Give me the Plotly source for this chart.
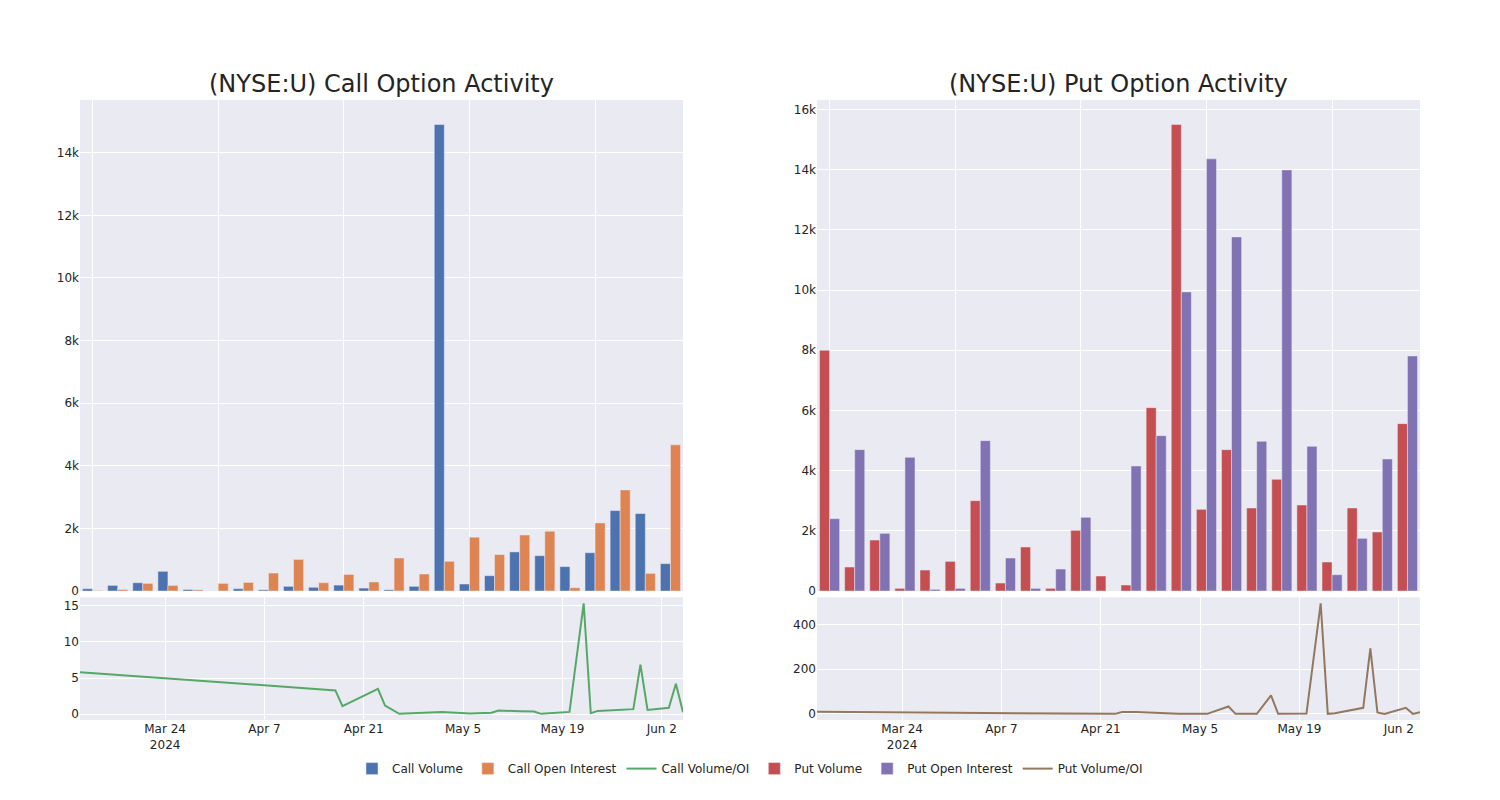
import plotly.graph_objects as go
from plotly.subplots import make_subplots

dates = ["2024-03-12", "2024-04-17", "2024-04-18", "2024-04-23", "2024-04-24", "2024-04-26",
         "2024-05-02", "2024-05-06", "2024-05-09", "2024-05-10", "2024-05-13", "2024-05-15",
         "2024-05-16", "2024-05-20", "2024-05-22", "2024-05-23", "2024-05-24", "2024-05-28",
         "2024-05-29", "2024-05-30", "2024-05-31", "2024-06-03", "2024-06-04", "2024-06-05"]

call_volume = [75, 180, 265, 630, 50, 0, 75, 40, 150, 120, 190, 95,
               40, 150, 14900, 225, 490, 1250, 1130, 780, 1225, 2570, 2475, 875]
call_oi = [13, 50, 245, 180, 40, 245, 275, 575, 1010, 265, 530, 290,
           1055, 545, 950, 1720, 1165, 1790, 1910, 105, 2175, 3230, 565, 4670]
call_ratio = [5.8, 3.29, 1.11, 3.5, 1.2, 0.05, 0.32, 0.1, 0.2, 0.5, 0.42, 0.37,
              0.05, 0.32, 15.3, 0.14, 0.46, 0.6, 0.7, 6.85, 0.6, 0.88, 4.2, 0.28]

put_volume = [8000, 798, 1695, 89, 698, 986, 3003, 266, 1463, 89, 2017, 499,
              200, 6094, 15500, 2715, 4698, 2759, 3712, 2859, 964, 2759, 1961, 5562]
put_oi = [2404, 4698, 1917, 4443, 55, 89, 4997, 1097, 89, 731, 2449, 0,
          4155, 5163, 9939, 14360, 11767, 4975, 13994, 4809, 543, 1751, 4388, 7811]
put_ratio = [9, 1, 2, 0, 8, 8, 0, 0, 33, 0, 0, 83,
             0, 2, 495, 0, 3, 27, 293, 6, 0, 27, 0, 7]

titles = ["(NYSE:U) Call Option Activity", "(NYSE:U) Put Option Activity"]

fig = make_subplots(rows=2, cols=2, row_heights=[0.8, 0.2], vertical_spacing=0.01,
                    horizontal_spacing=0.1, subplot_titles=[titles[0], titles[1], "", ""])

fig.add_trace(go.Bar(x=dates, y=call_volume, name="Call Volume", marker_color="#4c72b0"), row=1, col=1)
fig.add_trace(go.Bar(x=dates, y=call_oi, name="Call Open Interest", marker_color="#dd8452"), row=1, col=1)
fig.add_trace(go.Scatter(x=dates, y=call_ratio, mode="lines", name="Call Volume/OI",
                         line=dict(color="#55a868", width=2)), row=2, col=1)
fig.add_trace(go.Bar(x=dates, y=put_volume, name="Put Volume", marker_color="#c44e52"), row=1, col=2)
fig.add_trace(go.Bar(x=dates, y=put_oi, name="Put Open Interest", marker_color="#8172b3"), row=1, col=2)
fig.add_trace(go.Scatter(x=dates, y=put_ratio, mode="lines", name="Put Volume/OI",
                         line=dict(color="#937860", width=2)), row=2, col=2)

for c in (1, 2):
    fig.update_xaxes(type="category", showticklabels=False, tickmode="linear", tick0=0, dtick=5,
                     row=1, col=c)
    fig.update_xaxes(type="date", row=2, col=c)

fig.update_annotations(font=dict(size=24, family="DejaVu Sans", color="rgb(36,36,36)"))

fig.update_layout(
    template="seaborn",
    width=1500, height=800,
    margin=dict(l=72, r=88, t=92, b=88),
    font=dict(family="DejaVu Sans", size=12, color="rgb(36,36,36)"),
    barmode="group",
    legend=dict(orientation="h", x=0.5, xanchor="center", y=-0.055, yanchor="top",
                font=dict(size=12)),
)

fig.write_html("out.html")
